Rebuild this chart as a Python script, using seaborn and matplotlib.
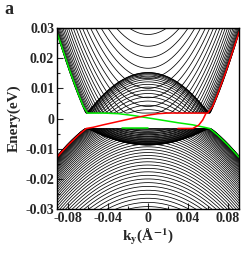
import numpy as np
import pandas as pd
import matplotlib
matplotlib.use("Agg")
import matplotlib.pyplot as plt
import seaborn as sns
from matplotlib.ticker import MultipleLocator

# ---------------- data ----------------
# ribbon bulk subbands: transverse momenta q_n = n*pi/W (model parameters)
ribbon_width = 1208.0          # Angstrom
subband_index = list(range(0, 53))
k_grid = np.linspace(-0.092, 0.092, 461)
k_node = 0.062                 # band-touching momentum (1/A)
cond_edge, cond_B_in, cond_B_out, cond_gap, cond_q_scale = 0.0018, 3.65, 6.0, 0.0006, 1.4
val_edge, val_B_in, val_B_out, val_gap, val_q_scale = -0.0033, 1.55, 2.13, 0.0005, 1.0

# edge states
green_k = [-0.092, -0.085, -0.078, -0.070, -0.065, -0.061, -0.045, -0.030, -0.015, 0.000,
           0.015, 0.030, 0.045, 0.055, 0.062, 0.070, 0.080, 0.092]
green_E = [0.0290, 0.0221, 0.0152, 0.0081, 0.0040, 0.0018, 0.0018, 0.0016, 0.0010, 0.0002,
           -0.0006, -0.0014, -0.0021, -0.0028, -0.0033, -0.0055, -0.0087, -0.0130]
red_k = [-0.092, -0.080, -0.070, -0.062, -0.055, -0.045, -0.030, -0.015, 0.000, 0.010,
         0.020, 0.060, 0.065, 0.070, 0.078, 0.085, 0.092]
red_E = [-0.0130, -0.0087, -0.0055, -0.0033, -0.0029, -0.0021, -0.0010, 0.0001, 0.0011, 0.0016,
         0.0018, 0.0018, 0.0040, 0.0081, 0.0152, 0.0221, 0.0290]
green2_k = [-0.026, 0.000]
green2_E = [-0.0033, -0.0033]
red2_k = [0.030, 0.045, 0.051, 0.055, 0.058]
red2_E = [-0.0033, -0.0033, -0.0022, -0.0005, 0.0015]

xticks = [-0.08, -0.04, 0, 0.04, 0.08]
xtick_labels = ["-0.08", "-0.04", "0", "0.04", "0.08"]
yticks = [-0.03, -0.02, -0.01, 0, 0.01, 0.02, 0.03]
ytick_labels = ["-0.03", "-0.02", "-0.01", "0", "0.01", "0.02", "0.03"]

# ---------------- model bands ----------------
def band(k, q, edge, b_in, b_out, gap, sign):
    x = k**2 + q**2 - k_node**2
    y = np.where(x < 0, b_in * x, b_out * x)
    return edge + sign * (np.sqrt(y**2 + gap**2) - gap)

rows_c, rows_v = [], []
for n in subband_index:
    q = n * np.pi / ribbon_width
    ec = band(k_grid, q * cond_q_scale, cond_edge, cond_B_in, cond_B_out, cond_gap, +1)
    ev = band(k_grid, q * val_q_scale, val_edge, val_B_in, val_B_out, val_gap, -1)
    rows_c.append(pd.DataFrame({"k": k_grid, "E": ec, "band": n}))
    rows_v.append(pd.DataFrame({"k": k_grid, "E": ev, "band": n}))
df_c = pd.concat(rows_c, ignore_index=True)
df_v = pd.concat(rows_v, ignore_index=True)
df_c = df_c[df_c.E < 0.035]
df_v = df_v[df_v.E > -0.035]

# ---------------- plot ----------------
sns.set_theme(style="ticks")
plt.rcParams["font.family"] = ["Liberation Serif", "DejaVu Serif"]
plt.rcParams["font.weight"] = "bold"
plt.rcParams["mathtext.fontset"] = "stix"
plt.rcParams["mathtext.default"] = "bf"

fig = plt.figure(figsize=(2.43, 2.54), dpi=100)
ax = fig.add_axes([57/243, 1-209/254, 182/243, 181/254])

sns.lineplot(data=df_c, x="k", y="E", units="band", estimator=None, color="black",
             lw=0.55, ax=ax, legend=False)
sns.lineplot(data=df_v, x="k", y="E", units="band", estimator=None, color="black",
             lw=0.55, ax=ax, legend=False)
for kk, ee, col in [(green_k, green_E, "#00ee00"), (red_k, red_E, "#ff0000"),
                    (green2_k, green2_E, "#00ee00"), (red2_k, red2_E, "#ff0000")]:
    sns.lineplot(x=kk, y=ee, sort=False, estimator=None, color=col, lw=1.1, ax=ax)

ax.set_xlim(-0.0915, 0.0915)
ax.set_ylim(-0.03, 0.03)
ax.set_xticks(xticks, labels=xtick_labels)
ax.set_yticks(yticks, labels=ytick_labels)
ax.xaxis.set_minor_locator(MultipleLocator(0.02))
ax.yaxis.set_minor_locator(MultipleLocator(0.005))
ax.tick_params(which="both", direction="in", width=0.8, labelsize=10, pad=2,
               top=False, right=False)
ax.tick_params(which="major", length=4)
ax.tick_params(which="minor", length=2)
for s in ax.spines.values():
    s.set_linewidth(1.0)
    s.set_color("black")
for lab in ax.get_xticklabels() + ax.get_yticklabels():
    lab.set_fontweight("bold")

ax.set_xlabel(r"k$_\mathbf{y}$(Å$^{\mathbf{-1}}$)", fontsize=11, fontweight="bold", labelpad=1)
ax.set_ylabel("Enery(eV)", fontsize=11, fontweight="bold", labelpad=3)
fig.text(0.02, 0.995, "a", fontsize=13, fontweight="bold", va="top", ha="left")

fig.savefig("out.png", dpi=100)
